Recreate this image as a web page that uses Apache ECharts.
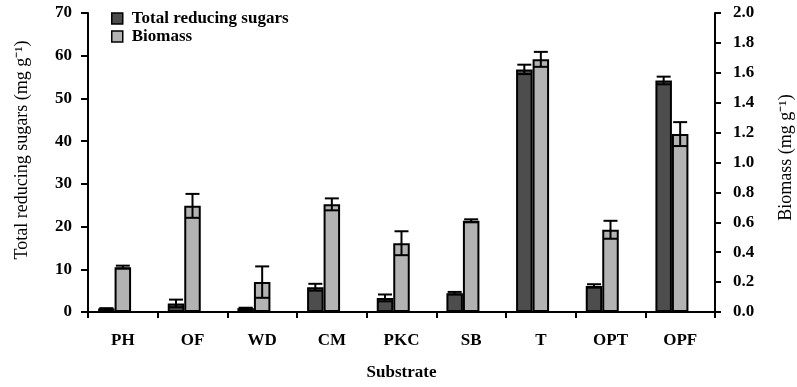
<!DOCTYPE html>
<html><head><meta charset="utf-8">
<script src="https://cdn.jsdelivr.net/npm/echarts@6/dist/echarts.min.js"></script>
<style>html,body{margin:0;padding:0;background:#fff}#c{width:797px;height:387px}</style>
</head><body><div id="c"></div>
<script>
const categories = ['PH', 'OF', 'WD', 'CM', 'PKC', 'SB', 'T', 'OPT', 'OPF'];
const sugars = [0.8, 2.0, 0.9, 5.8, 3.3, 4.4, 56.8, 6.1, 54.2];
const sugarsErr = [0.1, 0.9, 0.1, 0.8, 0.8, 0.3, 1.1, 0.4, 0.9];
const biomass = [0.30, 0.71, 0.20, 0.72, 0.46, 0.61, 1.69, 0.55, 1.19];
const biomassErr = [0.01, 0.08, 0.105, 0.04, 0.08, 0.01, 0.05, 0.06, 0.08];
const leftAxisTicks = [0, 10, 20, 30, 40, 50, 60, 70];
const rightAxisTicks = [0.0, 0.2, 0.4, 0.6, 0.8, 1.0, 1.2, 1.4, 1.6, 1.8, 2.0];

const FONT = 'Liberation Serif';
const BAR_W = 16.5;

function errRenderer(slot) {
  return function (params, api) {
    const i = api.value(0), v = api.value(1), e = api.value(2);
    const top = api.coord([i, v + e]);
    const bot = api.coord([i, v - e]);
    const x = top[0] + slot * BAR_W;
    const half = 7;
    const st = { stroke: '#000', lineWidth: 2 };
    return {
      type: 'group', children: [
        { type: 'line', shape: { x1: x, y1: top[1], x2: x, y2: bot[1] }, style: st },
        { type: 'line', shape: { x1: x - half, y1: top[1], x2: x + half, y2: top[1] }, style: st },
        { type: 'line', shape: { x1: x - half, y1: bot[1], x2: x + half, y2: bot[1] }, style: st }
      ]
    };
  };
}

const chart = echarts.init(document.getElementById('c'), null, { renderer: 'canvas' });
const axisLine = { show: true, lineStyle: { color: '#000', width: 2 } };
chart.setOption({
  animation: false,
  backgroundColor: '#fff',
  grid: { left: 88, right: 82, top: 13, bottom: 75, containLabel: false, outerBoundsMode: 'none' },
  legend: {
    orient: 'vertical', left: 111, top: 10, padding: 0, icon: 'rect',
    itemWidth: 11, itemHeight: 11, itemGap: 1,
    data: [
      { name: 'Total reducing sugars', itemStyle: { color: '#4d4d4d', borderColor: '#000', borderWidth: 1.5 } },
      { name: 'Biomass', itemStyle: { color: '#b3b3b3', borderColor: '#000', borderWidth: 1.5 } }
    ],
    textStyle: { fontFamily: FONT, fontWeight: 'bold', fontSize: 17, color: '#000', padding: [0, 0, 0, 4] }
  },
  xAxis: {
    type: 'category', data: categories,
    axisLine: axisLine,
    axisTick: { show: true, length: 6, lineStyle: { color: '#000', width: 2 } },
    axisLabel: { fontFamily: FONT, fontWeight: 'bold', fontSize: 17, color: '#000', margin: 20 },
    name: 'Substrate', nameLocation: 'middle', nameGap: 52,
    nameTextStyle: { fontFamily: FONT, fontWeight: 'bold', fontSize: 17, color: '#000' }
  },
  yAxis: [
    {
      type: 'value', min: leftAxisTicks[0], max: leftAxisTicks[leftAxisTicks.length - 1],
      interval: leftAxisTicks[1] - leftAxisTicks[0],
      axisLine: axisLine, splitLine: { show: false },
      axisTick: { show: true, length: 7, lineStyle: { color: '#000', width: 2 } },
      axisLabel: { fontFamily: FONT, fontWeight: 'bold', fontSize: 17, color: '#000', margin: 16 },
      name: 'Total reducing sugars (mg g⁻¹)', nameLocation: 'middle', nameGap: 57, nameRotate: 90,
      nameTextStyle: { fontFamily: FONT, fontSize: 18, color: '#000', padding: [0, 0, 0, 25] }
    },
    {
      type: 'value', min: rightAxisTicks[0], max: rightAxisTicks[rightAxisTicks.length - 1],
      interval: 0.2,
      axisLine: axisLine, splitLine: { show: false },
      axisTick: { show: true, length: 6, lineStyle: { color: '#000', width: 2 } },
      axisLabel: { fontFamily: FONT, fontWeight: 'bold', fontSize: 17, color: '#000', margin: 18,
        formatter: v => v.toFixed(1) },
      name: 'Biomass (mg g⁻¹)', nameLocation: 'middle', nameGap: 62, nameRotate: 90,
      nameTextStyle: { fontFamily: FONT, fontSize: 18, color: '#000', padding: [0, 0, 0, 10] }
    }
  ],
  series: [
    {
      name: 'Total reducing sugars', type: 'bar', yAxisIndex: 0, data: sugars,
      barWidth: BAR_W, barGap: '0%',
      itemStyle: { color: '#4d4d4d', borderColor: '#000', borderWidth: 2 }
    },
    {
      name: 'Biomass', type: 'bar', yAxisIndex: 1, data: biomass,
      barWidth: BAR_W, barGap: '0%',
      itemStyle: { color: '#b3b3b3', borderColor: '#000', borderWidth: 2 }
    },
    {
      name: 'spacer', type: 'bar', yAxisIndex: 0, data: categories.map(() => null),
      barWidth: BAR_W, barGap: '0%', silent: true
    },
    {
      type: 'custom', yAxisIndex: 0, z: 5, silent: true,
      renderItem: errRenderer(-1),
      data: sugars.map((v, i) => [i, v, sugarsErr[i]])
    },
    {
      type: 'custom', yAxisIndex: 1, z: 5, silent: true,
      renderItem: errRenderer(0),
      data: biomass.map((v, i) => [i, v, biomassErr[i]])
    }
  ]
});
</script>
</body></html>
